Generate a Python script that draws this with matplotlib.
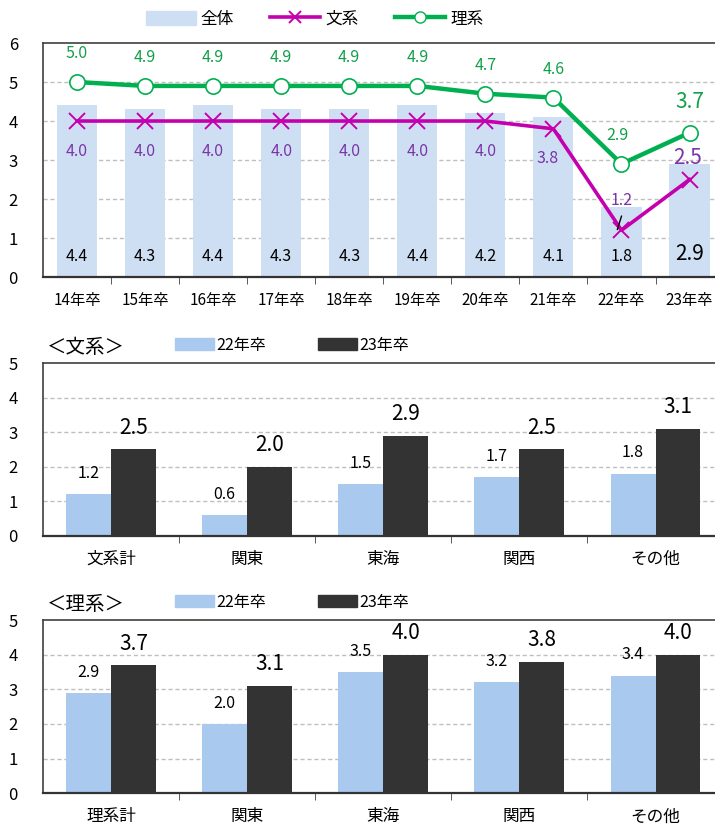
import matplotlib
matplotlib.use("Agg")
import matplotlib.pyplot as plt
from matplotlib.patches import Patch
from matplotlib.lines import Line2D
import numpy as np

plt.rcParams['font.family'] = ['Noto Sans CJK JP', 'DejaVu Sans']

# top chart data
years = ["14年卒", "15年卒", "16年卒", "17年卒", "18年卒", "19年卒", "20年卒", "21年卒", "22年卒", "23年卒"]
zentai = [4.4, 4.3, 4.4, 4.3, 4.3, 4.4, 4.2, 4.1, 1.8, 2.9]
bunkei = [4.0, 4.0, 4.0, 4.0, 4.0, 4.0, 4.0, 3.8, 1.2, 2.5]
rikei = [5.0, 4.9, 4.9, 4.9, 4.9, 4.9, 4.7, 4.6, 2.9, 3.7]

# regional data
bun_regions = ["文系計", "関東", "東海", "関西", "その他"]
bun_22 = [1.2, 0.6, 1.5, 1.7, 1.8]
bun_23 = [2.5, 2.0, 2.9, 2.5, 3.1]
ri_regions = ["理系計", "関東", "東海", "関西", "その他"]
ri_22 = [2.9, 2.0, 3.5, 3.2, 3.4]
ri_23 = [3.7, 3.1, 4.0, 3.8, 4.0]

c_all = "#CFDFF3"
c_bun = "#C400AE"
c_ri = "#00B050"
c_bun_txt = "#7A35A8"
c_ri_txt = "#12A04A"
c_22 = "#A9CAEE"
c_23 = "#333333"
grid_c = "#BFBFBF"

fig = plt.figure(figsize=(7.15, 8.27), dpi=100)


def style_axes(ax, n, ymax):
    ax.set_xlim(-0.5, n - 0.5)
    ax.set_ylim(0, ymax)
    ax.set_yticks(range(ymax + 1))
    ax.tick_params(axis='y', length=0, labelsize=12, pad=18)
    ax.set_xticks(range(n))
    ax.set_xticks(np.arange(n - 1) + 0.5, minor=True)
    ax.tick_params(axis='x', which='major', length=0, labelsize=11, pad=11)
    ax.tick_params(axis='x', which='minor', length=5, direction='out', color='#404040')
    for y in range(1, ymax):
        ax.axhline(y, color=grid_c, lw=1, ls=(0, (3, 2)), zorder=0)
    for s in ax.spines.values():
        s.set_color('#404040')
        s.set_linewidth(1.2)
    ax.spines['bottom'].set_linewidth(1.6)
    ax.spines['bottom'].set_color('#333333')


# ---- top chart
ax1 = fig.add_axes([0.060, 0.665, 0.952, 0.283])
x = np.arange(len(years))
ax1.bar(x, zentai, width=0.59, color=c_all, zorder=1)
ax1.plot(x, bunkei, color=c_bun, lw=2.6, marker='x', ms=11, mew=1.4, zorder=3)
ax1.plot(x, rikei, color=c_ri, lw=3.2, marker='o', ms=11, mfc='white', mec=c_ri, mew=1.2, zorder=4)
style_axes(ax1, len(years), 6)
ax1.set_xticklabels(years)

for i, v in enumerate(zentai):
    big = i == len(zentai) - 1
    ax1.text(i, 0.6 if big else 0.52, f"{v:.1f}", ha='center', va='center',
             fontsize=15 if big else 11.5, color='black')
for i, v in enumerate(rikei):
    if i == 9:
        ax1.text(i, v + 0.8, f"{v:.1f}", ha='center', va='center', fontsize=15, color=c_ri_txt)
    else:
        ax1.text(i - (0.06 if i == 8 else 0), v + 0.72, f"{v:.1f}", ha='center', va='center',
                 fontsize=11.5, color=c_ri_txt)
for i, v in enumerate(bunkei):
    if i == 8:
        ax1.text(i, v + 0.77, f"{v:.1f}", ha='center', va='center', fontsize=11.5, color=c_bun_txt)
        ax1.plot([i - 0.06, i], [v + 0.02, v + 0.36], color='black', lw=1, zorder=5)
    elif i == 9:
        ax1.text(i - 0.03, v + 0.55, f"{v:.1f}", ha='center', va='center', fontsize=15, color=c_bun_txt)
    elif i == 7:
        ax1.text(i - 0.09, v - 0.75, f"{v:.1f}", ha='center', va='center', fontsize=11.5, color=c_bun_txt)
    else:
        ax1.text(i, v - 0.77, f"{v:.1f}", ha='center', va='center', fontsize=11.5, color=c_bun_txt)

handles = [Patch(color=c_all),
           Line2D([], [], color=c_bun, lw=2.6, marker='x', ms=8, mew=1.4),
           Line2D([], [], color=c_ri, lw=3.2, marker='o', ms=8, mfc='white', mec=c_ri)]
fig.legend(handles, ["全体", "文系", "理系"], loc='center', bbox_to_anchor=(0.44, 0.977),
           ncol=3, frameon=False, fontsize=12, handlelength=3.0, handleheight=0.9,
           columnspacing=2.2, handletextpad=0.3)


# ---- regional charts
def region_chart(rect, labels, v22, v23, title, ty):
    ax = fig.add_axes(rect)
    xx = np.arange(len(labels))
    w = 0.33
    ax.bar(xx - w / 2, v22, width=w, color=c_22, zorder=1)
    ax.bar(xx + w / 2, v23, width=w, color=c_23, zorder=1)
    style_axes(ax, len(labels), 5)
    ax.set_xticklabels(labels, fontsize=12)
    for i in range(len(labels)):
        ax.text(xx[i] - w / 2, v22[i] + 0.6, f"{v22[i]:.1f}", ha='center', va='center', fontsize=11.5)
        ax.text(xx[i] + w / 2, v23[i] + 0.62, f"{v23[i]:.1f}", ha='center', va='center', fontsize=15)
    fig.text(0.065, ty, title, ha='left', va='center', fontsize=14)
    fig.legend([Patch(color=c_22), Patch(color=c_23)], ["22年卒", "23年卒"],
               loc='center left', bbox_to_anchor=(0.225, ty + 0.002), ncol=2, frameon=False,
               fontsize=11.5, handlelength=2.4, handleheight=0.8, columnspacing=3.3,
               handletextpad=0.15)
    return ax


region_chart([0.060, 0.352, 0.952, 0.209], bun_regions, bun_22, bun_23, "＜文系＞", 1 - 347 / 827)
region_chart([0.060, 0.041, 0.952, 0.209], ri_regions, ri_22, ri_23, "＜理系＞", 1 - 604 / 827)

fig.savefig("out.png", dpi=100)
